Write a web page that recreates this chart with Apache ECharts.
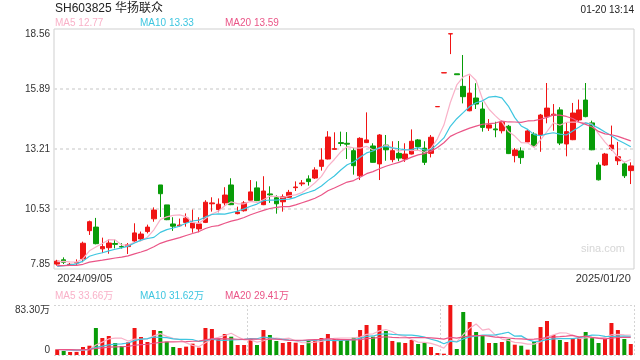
<!DOCTYPE html>
<html><head><meta charset="utf-8">
<script src="https://cdn.jsdelivr.net/npm/echarts@6/dist/echarts.min.js"></script>
<style>html,body{margin:0;padding:0;background:#fff}#c{width:640px;height:360px}</style>
</head><body><div id="c"></div>
<script>
const dates = [
 '2024/09/05','2024/09/06','2024/09/09','2024/09/10','2024/09/11','2024/09/12','2024/09/13','2024/09/18','2024/09/19','2024/09/20',
 '2024/09/23','2024/09/24','2024/09/25','2024/09/26','2024/09/27','2024/09/30','2024/10/08','2024/10/09','2024/10/10','2024/10/11',
 '2024/10/14','2024/10/15','2024/10/16','2024/10/17','2024/10/18','2024/10/21','2024/10/22','2024/10/23','2024/10/24','2024/10/25',
 '2024/10/28','2024/10/29','2024/10/30','2024/10/31','2024/11/01','2024/11/04','2024/11/05','2024/11/06','2024/11/07','2024/11/08',
 '2024/11/11','2024/11/12','2024/11/13','2024/11/14','2024/11/15','2024/11/18','2024/11/19','2024/11/20','2024/11/21','2024/11/22',
 '2024/11/25','2024/11/26','2024/11/27','2024/11/28','2024/11/29','2024/12/02','2024/12/03','2024/12/04','2024/12/05','2024/12/06',
 '2024/12/09','2024/12/10','2024/12/11','2024/12/12','2024/12/13','2024/12/16','2024/12/17','2024/12/18','2024/12/19','2024/12/20',
 '2024/12/23','2024/12/24','2024/12/25','2024/12/26','2024/12/27','2024/12/30','2024/12/31','2025/01/02','2025/01/03','2025/01/06',
 '2025/01/07','2025/01/08','2025/01/09','2025/01/10','2025/01/13','2025/01/14','2025/01/15','2025/01/16','2025/01/17','2025/01/20'];
const opens = [
 8.07,8.26,8.04,8.12,8.30,9.56,9.72,8.75,8.80,8.99,
 8.85,8.85,9.10,9.19,9.52,10.09,11.60,10.71,9.86,9.78,
 9.93,9.68,9.64,9.93,10.76,10.50,10.80,11.60,10.32,10.45,
 10.92,11.47,10.72,11.20,11.03,10.85,11.05,11.48,11.65,11.87,
 11.91,12.43,12.76,13.19,13.49,13.46,13.13,12.01,13.49,13.34,
 12.54,13.38,12.73,13.01,12.76,12.98,13.61,13.24,13.01,15.09,
 16.60,18.34,16.56,16.00,14.91,15.48,14.99,14.14,14.10,14.02,
 14.22,12.91,13.12,13.52,13.87,13.84,14.65,14.70,14.95,13.43,
 13.62,14.50,15.39,14.37,12.49,12.49,13.21,12.68,12.54,12.24];
const closes = [
 8.20,8.15,8.06,8.14,9.00,9.96,8.98,8.85,9.01,8.95,
 8.83,8.93,9.46,9.41,9.72,10.48,11.21,10.05,9.76,9.81,
 10.12,9.90,9.86,10.83,10.80,10.74,11.15,10.72,10.39,10.80,
 11.29,10.90,11.33,11.16,10.76,11.08,11.27,11.51,11.69,11.75,
 12.27,12.71,13.74,13.22,13.45,13.42,12.46,13.68,13.61,12.61,
 13.83,13.17,13.13,12.80,12.98,13.55,13.31,12.61,13.73,15.10,
 16.61,18.35,16.52,15.54,15.70,15.21,14.17,14.28,14.06,14.40,
 13.00,13.16,12.82,14.01,13.35,14.72,15.03,14.76,13.47,13.98,
 14.81,14.95,14.65,13.17,11.83,12.98,13.38,12.86,12.01,12.45];
const highs = [
 8.26,8.37,8.12,8.28,9.07,10.01,10.13,9.25,9.18,9.16,
 9.00,9.01,9.89,9.52,9.83,10.60,11.60,10.71,10.16,10.10,
 10.33,10.50,10.16,10.92,11.05,11.00,11.50,11.90,10.63,10.88,
 11.82,11.76,11.99,11.54,11.14,11.18,11.38,11.76,11.82,12.03,
 12.39,13.24,14.00,13.95,13.98,13.96,13.25,13.73,14.84,13.46,
 13.87,13.83,13.55,13.56,13.46,14.08,13.65,13.55,13.83,15.10,
 16.61,18.35,16.56,17.40,16.48,16.14,15.29,14.54,14.42,14.47,
 14.28,13.25,13.28,14.05,13.95,14.77,16.15,15.21,15.07,14.40,
 15.26,15.41,16.15,14.47,12.61,13.03,14.25,13.52,12.61,12.61];
const lows = [
 8.00,8.07,7.99,8.00,8.15,9.37,8.95,8.56,8.53,8.77,
 8.76,8.52,9.04,9.09,9.44,9.96,10.17,10.03,9.55,9.74,
 9.74,9.47,9.49,9.90,10.41,10.38,10.67,10.70,10.29,10.41,
 10.88,10.88,10.70,10.80,10.32,10.41,11.02,11.33,11.55,11.57,
 11.87,12.24,12.74,13.17,13.33,12.76,12.06,11.82,13.47,12.60,
 11.82,12.68,12.61,12.66,12.63,12.96,13.13,12.49,12.83,15.09,
 16.60,17.44,16.52,15.24,14.89,14.99,13.98,14.01,13.73,13.90,
 12.98,12.61,12.54,13.49,13.31,13.08,14.35,14.02,13.38,12.88,
 13.60,14.40,14.62,13.15,11.80,12.45,13.13,12.49,11.91,11.64];
// volume in 万
const volumes = [
 9.4,6.7,5.0,5.0,13.3,15.5,45.0,28.3,31.7,20.0,
 15.0,21.1,45.0,30.0,21.7,41.6,40.0,22.2,13.3,11.7,
 13.9,18.9,12.2,45.0,43.3,27.2,35.0,30.5,16.7,16.7,
 26.7,16.7,41.6,33.3,23.3,20.0,21.7,20.5,16.7,23.9,
 24.4,28.3,35.0,26.7,26.1,25.5,28.9,41.6,50.0,30.5,
 50.0,40.0,23.3,21.1,20.0,25.0,18.3,20.5,13.3,3.3,
 2.2,83.3,10.0,71.6,55.0,38.3,32.8,20.0,20.0,21.7,
 26.7,17.2,15.5,8.9,22.2,46.6,56.6,33.3,25.0,21.7,
 26.7,30.5,38.3,30.0,20.0,26.7,53.3,41.6,26.7,18.3];
// sessions before the window, estimated from where the MA lines start
const prevCloses = [8.05,8.02,8.06,8.00,8.03,8.04,8.01,8.05,8.02,8.02,7.80,7.74,7.72,7.76,7.78,8.10,8.15,8.20,8.23];
const prevVolumes = [8.6,9.2,9.8,8.8,9.4,9.0,8.7,9.6,9.9,9.1,8.6,9.3,9.6,8.9,9.2,9.5,8.5,9.4,9.0];
const priceTicks = ['7.85','10.53','13.21','15.89','18.56'];
const volTicks = ['0','83.30万'];
const title = 'SH603825 华扬联众';
const timeText = '01-20 13:14';
const maLegend = ['MA5 12.77','MA10 13.33','MA20 13.59'];
const volLegend = ['MA5 33.66万','MA10 31.62万','MA20 29.41万'];

const RED = '#f01414', GREEN = '#089c08';
const C5 = '#f9b1c8', C10 = '#3ec6e0', C20 = '#ea5587';
const FONT = "'Liberation Sans', Arial, 'Noto Sans CJK SC', sans-serif";

function ma(hist, vals, n) {
  const all = hist.concat(vals);
  return vals.map((v, i) => {
    const end = hist.length + i; let s = 0;
    for (let k = end - n + 1; k <= end; k++) s += all[k];
    return +(s / n).toFixed(3);
  });
}
const up = closes.map((c, i) => c > opens[i] || (c === opens[i] && (i === 0 || c >= closes[i - 1])));
const kData = closes.map((c, i) => [opens[i], c, lows[i], highs[i]]);
const volData = volumes.map((v, i) => ({ value: v, itemStyle: { color: up[i] ? RED : GREEN } }));
const pMin = +priceTicks[0], pMax = +priceTicks[priceTicks.length - 1];
const pInt = (pMax - pMin) / (priceTicks.length - 1);

function line(name, data, color, xi, yi) {
  return { name, type: 'line', data, xAxisIndex: xi, yAxisIndex: yi, symbol: 'none', smooth: false,
    lineStyle: { color, width: 1.2 }, itemStyle: { color }, silent: true, z: 3 };
}
function txt(text, x, y, color, size, align) {
  return { type: 'text', x, y, silent: true, z: 10,
    style: { text, fill: color, font: size + 'px ' + FONT, textAlign: align || 'left', textVerticalAlign: 'middle' } };
}

const chart = echarts.init(document.getElementById('c'), null, { renderer: 'canvas' });
chart.setOption({
  animation: false,
  backgroundColor: '#fff',
  grid: [
    { left: 54, right: 6, top: 29, height: 240, show: true, borderColor: '#cfcfcf', borderWidth: 1 },
    { left: 54, right: 6, top: 305, height: 50 }
  ],
  xAxis: [
    { type: 'category', gridIndex: 0, data: dates, boundaryGap: true,
      axisLine: { show: false }, axisTick: { show: false }, splitLine: { show: false },
      axisLabel: { interval: (i) => i === 0 || i === dates.length - 1, color: '#333', fontSize: 11, fontFamily: FONT,
        margin: 4, alignMinLabel: 'left', alignMaxLabel: 'right', showMinLabel: true, showMaxLabel: true } },
    { type: 'category', gridIndex: 1, data: dates, boundaryGap: true,
      axisLine: { show: false }, axisTick: { show: false }, axisLabel: { show: false },
      splitLine: { show: true, interval: (i) => i === 30 || i === 60 || i === 90,
        lineStyle: { color: '#d4d4d4', type: [2, 2], width: 1 } } }
  ],
  yAxis: [
    { type: 'value', gridIndex: 0, min: pMin, max: pMax, interval: pInt, scale: true,
      axisLine: { show: false }, axisTick: { show: false },
      axisLabel: { color: '#333', fontSize: 10, fontFamily: FONT, margin: 4,
        formatter: (v) => priceTicks[Math.round((v - pMin) / pInt)],
        verticalAlignMaxLabel: 'top', verticalAlignMinLabel: 'bottom' },
      splitLine: { show: true, showMinLine: false, showMaxLine: false,
        lineStyle: { color: '#e2e2e2', type: [3, 3], width: 2 } } },
    { type: 'value', gridIndex: 1, min: 0, max: 83.3, interval: 83.3,
      axisLine: { show: false }, axisTick: { show: false },
      axisLabel: { color: '#333', fontSize: 10, fontFamily: FONT, margin: 4,
        formatter: (v) => (v === 0 ? volTicks[0] : volTicks[1]),
        verticalAlignMaxLabel: 'top', verticalAlignMinLabel: 'bottom' },
      splitLine: { show: true, lineStyle: { color: '#d4d4d4', type: [2, 2], width: 1 } } }
  ],
  series: [
    { name: 'K', type: 'candlestick', data: kData, xAxisIndex: 0, yAxisIndex: 0, barWidth: 5,
      itemStyle: { color: RED, color0: GREEN, borderColor: RED, borderColor0: GREEN, borderWidth: 1 } },
    line('MA5', ma(prevCloses, closes, 5), C5, 0, 0),
    line('MA10', ma(prevCloses, closes, 10), C10, 0, 0),
    line('MA20', ma(prevCloses, closes, 20), C20, 0, 0),
    { name: 'VOL', type: 'bar', data: volData, xAxisIndex: 1, yAxisIndex: 1, barWidth: 4 },
    line('VMA5', ma(prevVolumes, volumes, 5), C5, 1, 1),
    line('VMA10', ma(prevVolumes, volumes, 10), C10, 1, 1),
    line('VMA20', ma(prevVolumes, volumes, 20), C20, 1, 1)
  ],
  graphic: [
    txt(title, 55, 9, '#222', 12),
    txt(timeText, 634, 10, '#222', 10, 'right'),
    txt(maLegend[0], 55, 23.5, C5, 10),
    txt(maLegend[1], 140, 23.5, C10, 10),
    txt(maLegend[2], 225, 23.5, C20, 10),
    txt(volLegend[0], 55, 296, C5, 10),
    txt(volLegend[1], 140, 296, C10, 10),
    txt(volLegend[2], 225, 296, C20, 10),
    txt('sina.com', 603, 249, '#d6d6d6', 11, 'center')
  ]
});
</script></body></html>
